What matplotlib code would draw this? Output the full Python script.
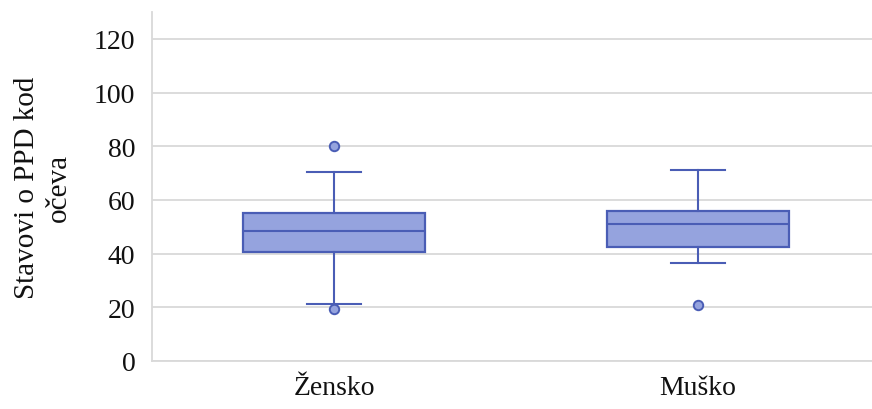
import matplotlib.pyplot as plt

categories = ["Žensko", "Muško"]
q1 = [40.5, 42.4]
median = [48.3, 51.2]
q3 = [55.0, 56.0]
whisker_low = [21.2, 36.4]
whisker_high = [70.3, 71.3]
outliers = [[80.2, 19.3], [21.0]]
yticks = [0, 20, 40, 60, 80, 100, 120]

fill_color = "#95a3de"
edge_color = "#4a5db5"
grid_color = "#d9d9d9"


def main():
    plt.rcParams["font.family"] = ["Liberation Serif", "DejaVu Serif"]

    stats = []
    for i, name in enumerate(categories):
        stats.append({
            "label": name,
            "q1": q1[i],
            "med": median[i],
            "q3": q3[i],
            "whislo": whisker_low[i],
            "whishi": whisker_high[i],
            "fliers": outliers[i],
        })

    fig = plt.figure(figsize=(8.72, 4.10), dpi=100)
    ax = fig.add_axes([152 / 872, 48 / 410, 1 - 152 / 872, 349 / 410])

    ax.bxp(
        stats,
        positions=[1, 2],
        widths=0.5,
        capwidths=0.146,
        patch_artist=True,
        boxprops=dict(facecolor=fill_color, edgecolor=edge_color, linewidth=1.6),
        medianprops=dict(color=edge_color, linewidth=1.5),
        whiskerprops=dict(color=edge_color, linewidth=1.5),
        capprops=dict(color=edge_color, linewidth=1.5),
        flierprops=dict(marker="o", markerfacecolor=fill_color,
                        markeredgecolor=edge_color, markersize=6.8,
                        markeredgewidth=1.4),
        zorder=3,
    )

    ax.set_xlim(0.5, 0.5 + 720 / 364)
    ax.set_ylim(0, 130)
    ax.set_yticks(yticks)
    ax.set_xticks([1, 2])
    ax.set_xticklabels(categories)
    ax.yaxis.grid(True, color=grid_color, linewidth=1.3, zorder=0)
    ax.set_axisbelow(True)
    ax.tick_params(axis="both", length=0, labelsize=20, colors="#111111")
    ax.tick_params(axis="x", pad=10)
    ax.tick_params(axis="y", pad=12)

    for side in ["top", "right"]:
        ax.spines[side].set_visible(False)
    for side in ["left", "bottom"]:
        ax.spines[side].set_color(grid_color)
        ax.spines[side].set_linewidth(1.3)

    ax.set_ylabel("Stavovi o PPD kod\nočeva", fontsize=21, color="#111111",
                  labelpad=16, linespacing=1.3)

    fig.savefig("out.png", dpi=100)


if __name__ == "__main__":
    main()
